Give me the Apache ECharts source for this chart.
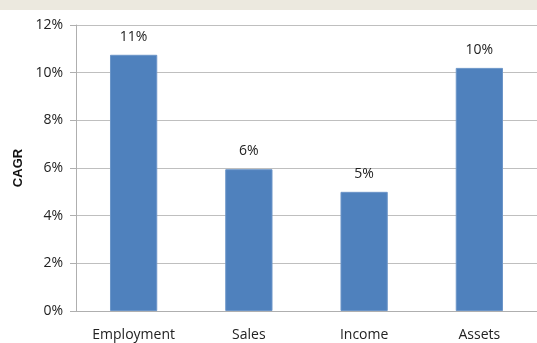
<!DOCTYPE html>
<html>
<head>
<meta charset="utf-8">
<script src="https://cdn.jsdelivr.net/npm/echarts@6/dist/echarts.min.js"></script>
<style>
  html, body { margin: 0; padding: 0; background: #fff; }
  .box { width: 537px; height: 343px; }
</style>
</head>
<body>
<div class="box"></div>
<script>
// data
var categories = ["Employment", "Sales", "Income", "Assets"];
var cagrValues = [10.75, 5.95, 5.0, 10.2];
var yTicks = [0, 2, 4, 6, 8, 10, 12];

(function () {
    var myChart = echarts.init(document.querySelector(".box"));
    var font = "'Open Sans', sans-serif";

    var option = {
        backgroundColor: "#fff",
        graphic: [{
            type: "rect",
            shape: { x: 0, y: 0, width: 537, height: 10 },
            style: { fill: "#ECE9DF" }
        }],
        grid: { left: 76, right: 0, top: 25, bottom: 32 },
        xAxis: {
            type: "category",
            data: categories,
            axisTick: { show: false },
            axisLine: { lineStyle: { color: "#AFAFAF", width: 1 } },
            axisLabel: { color: "#222", fontSize: 14, fontFamily: font, margin: 17 }
        },
        yAxis: {
            type: "value",
            min: yTicks[0],
            max: yTicks[yTicks.length - 1],
            interval: 2,
            name: "CAGR",
            nameLocation: "middle",
            nameGap: 49,
            nameTextStyle: { color: "#111", fontSize: 13, fontWeight: "bold", fontFamily: "'Liberation Sans', sans-serif" },
            axisLine: { show: true, lineStyle: { color: "#AFAFAF" } },
            axisTick: { show: true, length: 6, lineStyle: { color: "#AFAFAF" } },
            splitLine: { lineStyle: { color: "#BFBFBF" } },
            axisLabel: {
                color: "#222", fontSize: 14, fontFamily: font, margin: 13,
                formatter: function (v) { return v + "%"; }
            }
        },
        series: [{
            type: "bar",
            data: cagrValues,
            barWidth: "41%",
            itemStyle: { color: "#4F81BD", borderColor: "#6C95C8", borderWidth: 1 },
            label: {
                show: true,
                position: "top",
                distance: 11,
                color: "#222",
                fontSize: 14,
                fontFamily: font,
                formatter: function (p) { return Math.round(p.value) + "%"; }
            }
        }]
    };

    myChart.setOption(option);
    window.addEventListener("resize", function () { myChart.resize(); });
})();
</script>
</body>
</html>
